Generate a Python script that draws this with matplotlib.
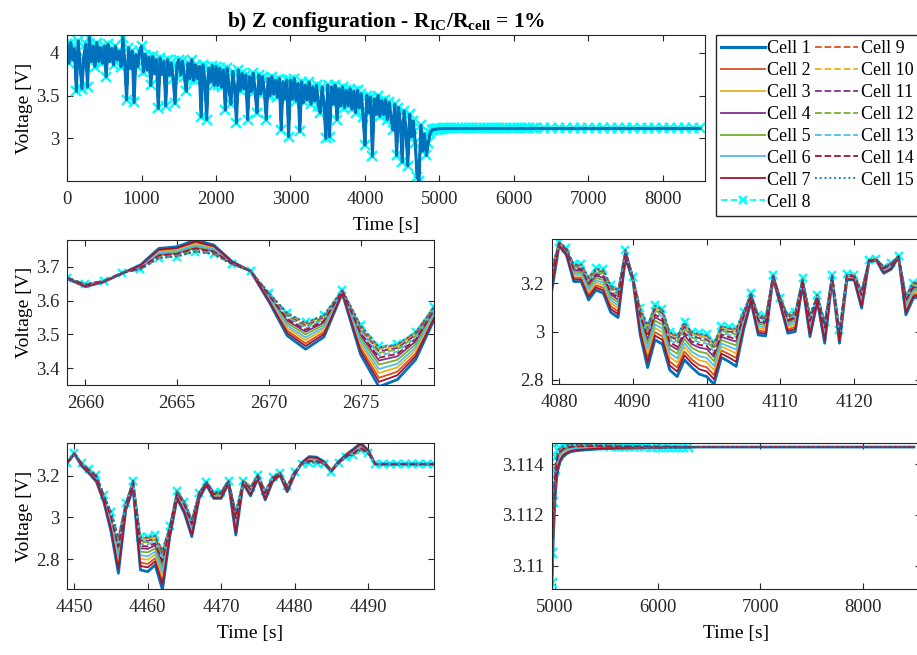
import numpy as np
import matplotlib
matplotlib.use("Agg")
import matplotlib.pyplot as plt
from matplotlib.ticker import FuncFormatter

plt.rcParams['font.family'] = ['Liberation Serif', 'DejaVu Serif']
plt.rcParams['mathtext.fontset'] = 'custom'
plt.rcParams['mathtext.rm'] = 'Liberation Serif'
plt.rcParams['mathtext.bf'] = 'Liberation Serif:bold'
plt.rcParams['mathtext.it'] = 'Liberation Serif:italic'

# ---- cells ----
cell_labels = ["Cell %d" % i for i in range(1, 16)]
cell_colors = ['#0072BD', '#D95319', '#EDB120', '#7E2F8E', '#77AC30', '#4DBEEE', '#A2142F',
               '#00FFFF',
               '#D95319', '#EDB120', '#7E2F8E', '#77AC30', '#4DBEEE', '#A2142F', '#0072BD']
cell_styles = ['-'] * 7 + ['--'] + ['--'] * 6 + [':']
# where each cell sits between the lowest (cell 1) and highest (cell 8) trace
cell_frac = [0.0, 0.22, 0.34, 0.65, 0.55, 0.44, 0.12, 1.0, 0.96, 0.92, 0.88, 0.84, 0.78, 0.72, 0.98]

# ---- full test (top panel), 25 s steps ----
top_t = np.arange(0, 4850, 25)
top_v = [
    4.10, 3.88, 4.12, 3.92, 4.05, 3.55, 4.14, 3.86, 3.58, 3.95, 4.10, 3.60, 4.18, 3.90, 4.08, 3.84, 4.12, 3.90, 4.06, 3.88,
    4.08, 3.72, 4.10, 3.90, 4.05, 3.86, 4.08, 3.92, 4.02, 3.84, 4.18, 3.88, 3.45, 4.06, 3.82, 4.02, 3.42, 3.98, 3.84, 4.02,
    4.08, 3.78, 3.98, 3.80, 3.95, 3.62, 3.96, 3.76, 3.92, 3.35, 3.94, 3.75, 3.90, 3.38, 3.92, 3.74, 3.88, 3.70, 3.41, 3.86,
    3.92, 3.74, 3.90, 3.72, 3.55, 3.88, 3.70, 3.92, 3.68, 3.86, 3.70, 3.84, 3.25, 3.86, 3.68, 3.22, 3.82, 3.66, 3.85, 3.62,
    3.84, 3.62, 3.82, 3.60, 3.80, 3.33, 3.82, 3.58, 3.40, 3.78, 3.60, 3.18, 3.80, 3.56, 3.76, 3.58, 3.74, 3.22, 3.72, 3.55,
    3.76, 3.55, 3.30, 3.74, 3.52, 3.72, 3.54, 3.22, 3.70, 3.50, 3.72, 3.52, 3.68, 3.48, 3.70, 3.10, 3.66, 3.46, 3.68, 3.02,
    3.68, 3.46, 3.70, 3.44, 3.64, 3.08, 3.66, 3.42, 3.62, 3.45, 3.66, 3.40, 3.60, 3.44, 3.62, 3.38, 3.30, 3.60, 3.40, 3.00,
    3.62, 3.02, 3.60, 3.40, 3.62, 3.22, 3.58, 3.38, 3.60, 3.36, 3.56, 3.38, 3.58, 3.34, 3.55, 3.30, 3.56, 3.36, 3.52, 3.25,
    2.92, 3.50, 3.30, 3.48, 2.79, 3.46, 3.28, 3.50, 3.26, 3.44, 3.28, 3.45, 3.22, 3.42, 3.24, 3.10, 3.40, 2.80, 3.36, 3.18,
    2.72, 3.32, 3.10, 2.68, 3.28, 3.02, 3.20, 2.95, 2.55, 2.50, 3.15, 2.85, 3.05, 2.80,
]
tail_t = [4850, 4875, 4900, 4925, 4950]
tail_v = [2.95, 3.06, 3.095, 3.104, 3.107]

# ---- relaxation ----
relax_t = [4968, 4975, 4985, 5000, 5015, 5030, 5050, 5080, 5120, 5160,
           5200, 5250, 5300, 5350, 5400, 5450, 5500, 5550, 5600, 5650, 5700, 5750,
           5800, 5850, 5900, 5950, 6000, 6050, 6100, 6150, 6200, 6250, 6300]
relax_lo = [3.1090, 3.1098, 3.1112, 3.1126, 3.1134, 3.1138, 3.1141, 3.1143, 3.11443, 3.11450,
            3.11453, 3.11455, 3.11457, 3.11458, 3.11460, 3.11461, 3.11462, 3.11462, 3.11463,
            3.11463, 3.11464, 3.11464, 3.11465, 3.11465, 3.11466, 3.11466, 3.11466, 3.11466,
            3.11467, 3.11467, 3.11467, 3.11467, 3.11467]
relax_hi = [3.1093, 3.1105, 3.1125, 3.1138, 3.1143, 3.11455, 3.11465, 3.11472, 3.11475, 3.11476,
            3.11477, 3.11477, 3.11477, 3.11476, 3.11476, 3.11475, 3.11475, 3.11474, 3.11474,
            3.11473, 3.11473, 3.11472, 3.11472, 3.11471, 3.11471, 3.11470, 3.11470, 3.11470,
            3.11470, 3.11469, 3.11469, 3.11469, 3.11469]
# flat rest after 6300 s
flat_t = np.arange(6400, 8600, 100)
flat_v = [3.11468] * 22

# ---- zoom 1: 2659-2679 s ----
a_t = np.arange(2659, 2680)
a_hi = [3.668, 3.648, 3.658, 3.682, 3.692, 3.725, 3.730, 3.744, 3.737, 3.707, 3.687,
        3.623, 3.564, 3.535, 3.558, 3.631, 3.528, 3.464, 3.472, 3.508, 3.582]
a_lo = [3.665, 3.641, 3.655, 3.680, 3.705, 3.754, 3.759, 3.779, 3.764, 3.715, 3.687,
        3.597, 3.496, 3.456, 3.492, 3.621, 3.440, 3.345, 3.366, 3.425, 3.543]

# ---- zoom 2: 4079-4129 s ----
b_t = np.arange(4079, 4130)
b_hi = [3.258, 3.370, 3.345, 3.279, 3.279, 3.227, 3.262, 3.258, 3.193, 3.172, 3.338, 3.227, 3.097,
        3.030, 3.110, 3.094, 3.000, 2.986, 3.039, 3.000, 2.993, 2.989, 2.956, 3.025, 3.017, 3.014,
        3.083, 3.159, 3.069, 3.062, 3.234, 3.138, 3.069, 3.083, 3.221, 3.069, 3.152, 3.041, 3.234,
        3.007, 3.237, 3.234, 3.172, 3.297, 3.299, 3.269, 3.283, 3.313, 3.152, 3.203, 3.207]
b_lo = [3.166, 3.355, 3.317, 3.207, 3.207, 3.131, 3.172, 3.159, 3.080, 3.058, 3.303, 3.214, 2.986,
        2.851, 2.966, 2.948, 2.841, 2.814, 2.883, 2.851, 2.824, 2.814, 2.782, 2.893, 2.876, 2.856,
        3.007, 3.124, 2.986, 2.982, 3.221, 3.110, 2.993, 3.000, 3.193, 2.979, 3.124, 2.952, 3.214,
        2.952, 3.214, 3.214, 3.097, 3.290, 3.294, 3.241, 3.258, 3.308, 3.069, 3.138, 3.145]

# ---- zoom 3: 4449-4499 s ----
c_t = np.arange(4449, 4500)
c_hi = [3.262, 3.307, 3.259, 3.230, 3.203, 3.108, 3.028, 2.908, 3.068, 3.176, 2.908, 2.908, 2.916,
        2.845, 2.959, 3.128, 3.075, 2.991, 3.119, 3.171, 3.119, 3.124, 3.176, 3.028, 3.176,
        3.147, 3.203, 3.128, 3.192, 3.214, 3.151, 3.219, 3.256, 3.262, 3.262, 3.256, 3.219, 3.259,
        3.288, 3.299, 3.323, 3.307,
        3.255, 3.255, 3.255, 3.255, 3.255, 3.255, 3.255, 3.255, 3.255]
c_lo = [3.259, 3.304, 3.246, 3.211, 3.171, 3.076, 2.932, 2.733, 3.036, 3.139, 2.749, 2.741, 2.773,
        2.655, 2.908, 3.091, 3.020, 2.908, 3.091, 3.155, 3.091, 3.091, 3.163, 2.916, 3.163,
        3.103, 3.187, 3.084, 3.171, 3.203, 3.123, 3.203, 3.262, 3.291, 3.288, 3.267, 3.224, 3.267,
        3.299, 3.326, 3.355, 3.323,
        3.255, 3.255, 3.255, 3.255, 3.255, 3.255, 3.255, 3.255, 3.255]


def draw_cells(ax, t, hi, lo, blue_on_top=False, ms=6, mark_n=None):
    hi = np.asarray(hi)
    lo = np.asarray(lo)
    for i in range(15):
        v = lo + cell_frac[i] * (hi - lo)
        kw = dict(color=cell_colors[i], ls=cell_styles[i], lw=2.0 if i == 0 else 1.3,
                  label=cell_labels[i])
        if i == 7:
            kw.update(marker='x', ms=ms, mew=1.7, zorder=1.9)
            if mark_n is not None:
                kw.update(markevery=slice(0, mark_n))
        if i == 0 and blue_on_top:
            kw.update(zorder=2.05, lw=2.2)
        if i == 14:
            kw.update(zorder=2.1)
        ax.plot(t, v, **kw)


def style(ax):
    ax.tick_params(direction='in', top=True, right=True, length=4, width=0.8,
                   colors='#262626', labelsize=13.5)
    ax.tick_params(axis='x', pad=7.5)
    ax.tick_params(axis='y', pad=5.5)
    for s in ax.spines.values():
        s.set_color('#262626')
        s.set_linewidth(0.8)
    ax.yaxis.set_major_formatter(FuncFormatter(lambda v, p: "%g" % round(v, 4)))


fig = plt.figure(figsize=(9.17, 6.55), dpi=100)

ax0 = fig.add_axes([0.0731, 0.7237, 0.6957, 0.2229])
all_t = np.concatenate([top_t, tail_t, relax_t, flat_t])
draw_cells(ax0, all_t, np.concatenate([top_v, tail_v, relax_hi, flat_v]),
           np.concatenate([top_v, tail_v, relax_lo, flat_v]), blue_on_top=True, ms=7)
ax0.set_xlim(0, 8565)
ax0.set_ylim(2.5, 4.21)
ax0.set_xticks(range(0, 9000, 1000))
ax0.set_yticks([3, 3.5, 4])
ax0.set_xlabel("Time [s]", fontsize=14, labelpad=6)
ax0.set_ylabel("Voltage [V]", fontsize=14, labelpad=2)
ax0.set_title(r"b) Z configuration - R$_{\mathbf{IC}}$/R$_{\mathbf{cell}}$ = 1%",
              fontweight='bold', fontsize=15.5, pad=6)
style(ax0)

ax1 = fig.add_axes([0.0731, 0.4122, 0.4002, 0.2214])
draw_cells(ax1, a_t, a_hi, a_lo)
ax1.set_xlim(2659, 2679)
ax1.set_ylim(3.35, 3.779)
ax1.set_xticks([2660, 2665, 2670, 2675])
ax1.set_yticks([3.4, 3.5, 3.6, 3.7])
ax1.set_ylabel("Voltage [V]", fontsize=14, labelpad=2)
style(ax1)

ax2 = fig.add_axes([0.6016, 0.4137, 0.4024, 0.2214])
draw_cells(ax2, b_t, b_hi, b_lo)
ax2.set_xlim(4079, 4129)
ax2.set_ylim(2.783, 3.383)
ax2.set_xticks([4080, 4090, 4100, 4110, 4120])
ax2.set_yticks([2.8, 3, 3.2])
style(ax2)

ax3 = fig.add_axes([0.0731, 0.1008, 0.4002, 0.2229])
draw_cells(ax3, c_t, c_hi, c_lo)
ax3.set_xlim(4449, 4499)
ax3.set_ylim(2.658, 3.356)
ax3.set_xticks([4450, 4460, 4470, 4480, 4490])
ax3.set_yticks([2.8, 3, 3.2])
ax3.set_xlabel("Time [s]", fontsize=14, labelpad=6)
ax3.set_ylabel("Voltage [V]", fontsize=14, labelpad=2)
style(ax3)

ax4 = fig.add_axes([0.6016, 0.1008, 0.4024, 0.2229])
draw_cells(ax4, np.concatenate([relax_t, flat_t]), np.concatenate([relax_hi, flat_v]),
           np.concatenate([relax_lo, flat_v]), ms=7, mark_n=len(relax_t))
ax4.set_xlim(4968, 8565)
ax4.set_ylim(3.10908, 3.11484)
ax4.set_xticks([5000, 6000, 7000, 8000])
ax4.set_yticks([3.11, 3.112, 3.114])
ax4.set_xlabel("Time [s]", fontsize=14, labelpad=6)
style(ax4)

h, l = ax0.get_legend_handles_labels()
fig.legend(h, l, ncol=2, loc='upper left', bbox_to_anchor=(0.7808, 0.9466),
           fontsize=13, handlelength=2.4, handletextpad=0.15, columnspacing=0.2,
           labelspacing=0.27, borderpad=0.3, borderaxespad=0.0, fancybox=False,
           edgecolor='#262626', framealpha=1, markerscale=0.85)

fig.savefig("out.png", dpi=100)
